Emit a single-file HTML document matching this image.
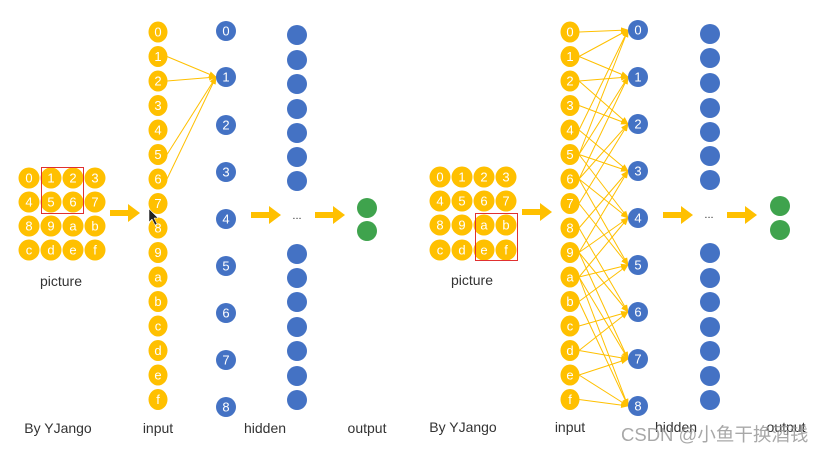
<!DOCTYPE html>
<html><head><meta charset="utf-8"><style>
html,body{margin:0;padding:0;background:#fff;}
svg{display:block;}
text{font-family:"Liberation Sans",sans-serif;}
.n{fill:#fff;font-size:13px;text-anchor:middle;dominant-baseline:central;}
.l{fill:#333;font-size:14px;text-anchor:middle;}
</style></head><body>
<svg width="828" height="453" viewBox="0 0 828 453" xmlns="http://www.w3.org/2000/svg">
<defs>
<marker id="ah" markerWidth="8" markerHeight="8" refX="7" refY="4" orient="auto" markerUnits="userSpaceOnUse">
<path d="M0,1 L8,4 L0,7 Z" fill="#ffc000"/></marker>
<symbol id="arr" viewBox="0 0 30 20" overflow="visible"><path d="M0,5 H18 V-1 L30,8 L18,17 V11 H0 Z" fill="#ffc000"/></symbol>
</defs>
<g stroke="#ffc000" stroke-width="1" marker-end="url(#ah)" fill="none">
<line x1="167" y1="56.5" x2="216" y2="77"/><line x1="167" y1="81" x2="216" y2="77"/>
<line x1="167" y1="154.5" x2="216" y2="77"/><line x1="167" y1="179" x2="216" y2="77"/>
<line x1="579" y1="32" x2="628" y2="30"/><line x1="579" y1="56.5" x2="628" y2="30"/><line x1="579" y1="130" x2="628" y2="30"/><line x1="579" y1="154.5" x2="628" y2="30"/>
<line x1="579" y1="56.5" x2="628" y2="77"/><line x1="579" y1="81" x2="628" y2="77"/><line x1="579" y1="154.5" x2="628" y2="77"/><line x1="579" y1="179" x2="628" y2="77"/>
<line x1="579" y1="81" x2="628" y2="124"/><line x1="579" y1="105.5" x2="628" y2="124"/><line x1="579" y1="179" x2="628" y2="124"/><line x1="579" y1="203.5" x2="628" y2="124"/>
<line x1="579" y1="130" x2="628" y2="171"/><line x1="579" y1="154.5" x2="628" y2="171"/><line x1="579" y1="228" x2="628" y2="171"/><line x1="579" y1="252.5" x2="628" y2="171"/>
<line x1="579" y1="154.5" x2="628" y2="218"/><line x1="579" y1="179" x2="628" y2="218"/><line x1="579" y1="252.5" x2="628" y2="218"/><line x1="579" y1="277" x2="628" y2="218"/>
<line x1="579" y1="179" x2="628" y2="265"/><line x1="579" y1="203.5" x2="628" y2="265"/><line x1="579" y1="277" x2="628" y2="265"/><line x1="579" y1="301.5" x2="628" y2="265"/>
<line x1="579" y1="228" x2="628" y2="312"/><line x1="579" y1="252.5" x2="628" y2="312"/><line x1="579" y1="326" x2="628" y2="312"/><line x1="579" y1="350.5" x2="628" y2="312"/>
<line x1="579" y1="252.5" x2="628" y2="359"/><line x1="579" y1="277" x2="628" y2="359"/><line x1="579" y1="350.5" x2="628" y2="359"/><line x1="579" y1="375" x2="628" y2="359"/>
<line x1="579" y1="277" x2="628" y2="406"/><line x1="579" y1="301.5" x2="628" y2="406"/><line x1="579" y1="375" x2="628" y2="406"/><line x1="579" y1="399.5" x2="628" y2="406"/>
</g>

<g fill="#ffc000">
<circle cx="29" cy="178" r="10.5"/><circle cx="51" cy="178" r="10.5"/><circle cx="73" cy="178" r="10.5"/><circle cx="95" cy="178" r="10.5"/>
<circle cx="29" cy="202" r="10.5"/><circle cx="51" cy="202" r="10.5"/><circle cx="73" cy="202" r="10.5"/><circle cx="95" cy="202" r="10.5"/>
<circle cx="29" cy="226" r="10.5"/><circle cx="51" cy="226" r="10.5"/><circle cx="73" cy="226" r="10.5"/><circle cx="95" cy="226" r="10.5"/>
<circle cx="29" cy="250" r="10.5"/><circle cx="51" cy="250" r="10.5"/><circle cx="73" cy="250" r="10.5"/><circle cx="95" cy="250" r="10.5"/>
</g>
<text class="n" x="29" y="178">0</text><text class="n" x="51" y="178">1</text><text class="n" x="73" y="178">2</text><text class="n" x="95" y="178">3</text>
<text class="n" x="29" y="202">4</text><text class="n" x="51" y="202">5</text><text class="n" x="73" y="202">6</text><text class="n" x="95" y="202">7</text>
<text class="n" x="29" y="226">8</text><text class="n" x="51" y="226">9</text><text class="n" x="73" y="226">a</text><text class="n" x="95" y="226">b</text>
<text class="n" x="29" y="250">c</text><text class="n" x="51" y="250">d</text><text class="n" x="73" y="250">e</text><text class="n" x="95" y="250">f</text>
<rect x="41.5" y="167.5" width="42" height="46" fill="none" stroke="#e03030" stroke-width="1"/>

<g fill="#ffc000">
<ellipse cx="158" cy="32" rx="9.5" ry="10.5"/><ellipse cx="158" cy="56.5" rx="9.5" ry="10.5"/><ellipse cx="158" cy="81" rx="9.5" ry="10.5"/><ellipse cx="158" cy="105.5" rx="9.5" ry="10.5"/>
<ellipse cx="158" cy="130" rx="9.5" ry="10.5"/><ellipse cx="158" cy="154.5" rx="9.5" ry="10.5"/><ellipse cx="158" cy="179" rx="9.5" ry="10.5"/><ellipse cx="158" cy="203.5" rx="9.5" ry="10.5"/>
<ellipse cx="158" cy="228" rx="9.5" ry="10.5"/><ellipse cx="158" cy="252.5" rx="9.5" ry="10.5"/><ellipse cx="158" cy="277" rx="9.5" ry="10.5"/><ellipse cx="158" cy="301.5" rx="9.5" ry="10.5"/>
<ellipse cx="158" cy="326" rx="9.5" ry="10.5"/><ellipse cx="158" cy="350.5" rx="9.5" ry="10.5"/><ellipse cx="158" cy="375" rx="9.5" ry="10.5"/><ellipse cx="158" cy="399.5" rx="9.5" ry="10.5"/>
</g>
<text class="n" x="158" y="32">0</text><text class="n" x="158" y="56.5">1</text><text class="n" x="158" y="81">2</text><text class="n" x="158" y="105.5">3</text>
<text class="n" x="158" y="130">4</text><text class="n" x="158" y="154.5">5</text><text class="n" x="158" y="179">6</text><text class="n" x="158" y="203.5">7</text>
<text class="n" x="158" y="228">8</text><text class="n" x="158" y="252.5">9</text><text class="n" x="158" y="277">a</text><text class="n" x="158" y="301.5">b</text>
<text class="n" x="158" y="326">c</text><text class="n" x="158" y="350.5">d</text><text class="n" x="158" y="375">e</text><text class="n" x="158" y="399.5">f</text>

<g fill="#4472c4">
<circle cx="226" cy="31" r="10"/><circle cx="226" cy="77" r="10"/><circle cx="226" cy="125" r="10"/><circle cx="226" cy="172" r="10"/><circle cx="226" cy="219" r="10"/><circle cx="226" cy="266" r="10"/><circle cx="226" cy="313" r="10"/><circle cx="226" cy="360" r="10"/><circle cx="226" cy="407" r="10"/>
</g>
<text class="n" x="226" y="31">0</text><text class="n" x="226" y="77">1</text><text class="n" x="226" y="125">2</text><text class="n" x="226" y="172">3</text><text class="n" x="226" y="219">4</text><text class="n" x="226" y="266">5</text><text class="n" x="226" y="313">6</text><text class="n" x="226" y="360">7</text><text class="n" x="226" y="407">8</text>

<g fill="#4472c4">
<circle cx="297" cy="35" r="10"/><circle cx="297" cy="60" r="10"/><circle cx="297" cy="84" r="10"/><circle cx="297" cy="109" r="10"/><circle cx="297" cy="133" r="10"/><circle cx="297" cy="157" r="10"/><circle cx="297" cy="181" r="10"/>
<circle cx="297" cy="254" r="10"/><circle cx="297" cy="278" r="10"/><circle cx="297" cy="302" r="10"/><circle cx="297" cy="327" r="10"/><circle cx="297" cy="351" r="10"/><circle cx="297" cy="376" r="10"/><circle cx="297" cy="400" r="10"/>
</g>
<text x="297" y="219" font-size="11" text-anchor="middle" fill="#333">...</text>
<g fill="#3fa34d"><circle cx="367" cy="208" r="10"/><circle cx="367" cy="231" r="10"/></g>
<use href="#arr" x="110" y="205" width="30" height="20"/>
<use href="#arr" x="251" y="207" width="30" height="20"/>
<use href="#arr" x="315" y="207" width="30" height="20"/>
<path d="M149,209 L149,222 L152,219 L155,225 L157,224 L154,218 L158,218 Z" fill="#222" stroke="#fff" stroke-width="0.5"/>

<text class="l" x="61" y="286">picture</text>
<text class="l" x="58" y="433">By YJango</text>
<text class="l" x="158" y="433">input</text>
<text class="l" x="265" y="433">hidden</text>
<text class="l" x="367" y="433">output</text>

<g fill="#ffc000">
<circle cx="440" cy="177" r="10.5"/><circle cx="462" cy="177" r="10.5"/><circle cx="484" cy="177" r="10.5"/><circle cx="506" cy="177" r="10.5"/>
<circle cx="440" cy="201" r="10.5"/><circle cx="462" cy="201" r="10.5"/><circle cx="484" cy="201" r="10.5"/><circle cx="506" cy="201" r="10.5"/>
<circle cx="440" cy="225" r="10.5"/><circle cx="462" cy="225" r="10.5"/><circle cx="484" cy="225" r="10.5"/><circle cx="506" cy="225" r="10.5"/>
<circle cx="440" cy="250" r="10.5"/><circle cx="462" cy="250" r="10.5"/><circle cx="484" cy="250" r="10.5"/><circle cx="506" cy="250" r="10.5"/>
</g>
<text class="n" x="440" y="177">0</text><text class="n" x="462" y="177">1</text><text class="n" x="484" y="177">2</text><text class="n" x="506" y="177">3</text>
<text class="n" x="440" y="201">4</text><text class="n" x="462" y="201">5</text><text class="n" x="484" y="201">6</text><text class="n" x="506" y="201">7</text>
<text class="n" x="440" y="225">8</text><text class="n" x="462" y="225">9</text><text class="n" x="484" y="225">a</text><text class="n" x="506" y="225">b</text>
<text class="n" x="440" y="250">c</text><text class="n" x="462" y="250">d</text><text class="n" x="484" y="250">e</text><text class="n" x="506" y="250">f</text>
<rect x="475.5" y="213.5" width="42" height="47" fill="none" stroke="#e03030" stroke-width="1"/>

<g fill="#ffc000">
<ellipse cx="570" cy="32" rx="9.5" ry="10.5"/><ellipse cx="570" cy="56.5" rx="9.5" ry="10.5"/><ellipse cx="570" cy="81" rx="9.5" ry="10.5"/><ellipse cx="570" cy="105.5" rx="9.5" ry="10.5"/>
<ellipse cx="570" cy="130" rx="9.5" ry="10.5"/><ellipse cx="570" cy="154.5" rx="9.5" ry="10.5"/><ellipse cx="570" cy="179" rx="9.5" ry="10.5"/><ellipse cx="570" cy="203.5" rx="9.5" ry="10.5"/>
<ellipse cx="570" cy="228" rx="9.5" ry="10.5"/><ellipse cx="570" cy="252.5" rx="9.5" ry="10.5"/><ellipse cx="570" cy="277" rx="9.5" ry="10.5"/><ellipse cx="570" cy="301.5" rx="9.5" ry="10.5"/>
<ellipse cx="570" cy="326" rx="9.5" ry="10.5"/><ellipse cx="570" cy="350.5" rx="9.5" ry="10.5"/><ellipse cx="570" cy="375" rx="9.5" ry="10.5"/><ellipse cx="570" cy="399.5" rx="9.5" ry="10.5"/>
</g>
<text class="n" x="570" y="32">0</text><text class="n" x="570" y="56.5">1</text><text class="n" x="570" y="81">2</text><text class="n" x="570" y="105.5">3</text>
<text class="n" x="570" y="130">4</text><text class="n" x="570" y="154.5">5</text><text class="n" x="570" y="179">6</text><text class="n" x="570" y="203.5">7</text>
<text class="n" x="570" y="228">8</text><text class="n" x="570" y="252.5">9</text><text class="n" x="570" y="277">a</text><text class="n" x="570" y="301.5">b</text>
<text class="n" x="570" y="326">c</text><text class="n" x="570" y="350.5">d</text><text class="n" x="570" y="375">e</text><text class="n" x="570" y="399.5">f</text>

<g fill="#4472c4">
<circle cx="638" cy="30" r="10"/><circle cx="638" cy="77" r="10"/><circle cx="638" cy="124" r="10"/><circle cx="638" cy="171" r="10"/><circle cx="638" cy="218" r="10"/><circle cx="638" cy="265" r="10"/><circle cx="638" cy="312" r="10"/><circle cx="638" cy="359" r="10"/><circle cx="638" cy="406" r="10"/>
</g>
<text class="n" x="638" y="30">0</text><text class="n" x="638" y="77">1</text><text class="n" x="638" y="124">2</text><text class="n" x="638" y="171">3</text><text class="n" x="638" y="218">4</text><text class="n" x="638" y="265">5</text><text class="n" x="638" y="312">6</text><text class="n" x="638" y="359">7</text><text class="n" x="638" y="406">8</text>

<g fill="#4472c4">
<circle cx="710" cy="34" r="10"/><circle cx="710" cy="58" r="10"/><circle cx="710" cy="83" r="10"/><circle cx="710" cy="108" r="10"/><circle cx="710" cy="132" r="10"/><circle cx="710" cy="156" r="10"/><circle cx="710" cy="180" r="10"/>
<circle cx="710" cy="253" r="10"/><circle cx="710" cy="278" r="10"/><circle cx="710" cy="302" r="10"/><circle cx="710" cy="327" r="10"/><circle cx="710" cy="351" r="10"/><circle cx="710" cy="376" r="10"/><circle cx="710" cy="400" r="10"/>
</g>
<text x="709" y="218" font-size="11" text-anchor="middle" fill="#333">...</text>
<g fill="#3fa34d"><circle cx="780" cy="206" r="10"/><circle cx="780" cy="230" r="10"/></g>
<use href="#arr" x="522" y="204" width="30" height="20"/>
<use href="#arr" x="663" y="207" width="30" height="20"/>
<use href="#arr" x="727" y="207" width="30" height="20"/>

<text class="l" x="472" y="285">picture</text>
<text class="l" x="463" y="432">By YJango</text>
<text class="l" x="570" y="432">input</text>
<text class="l" x="676" y="432">hidden</text>
<text class="l" x="786" y="432">output</text>
<text x="621" y="441" font-size="18.5" fill="#999" fill-opacity="0.85" style="font-family:'Liberation Sans','Noto Sans CJK SC',sans-serif">CSDN @小鱼干换酒钱</text>
</svg>
</body></html>
